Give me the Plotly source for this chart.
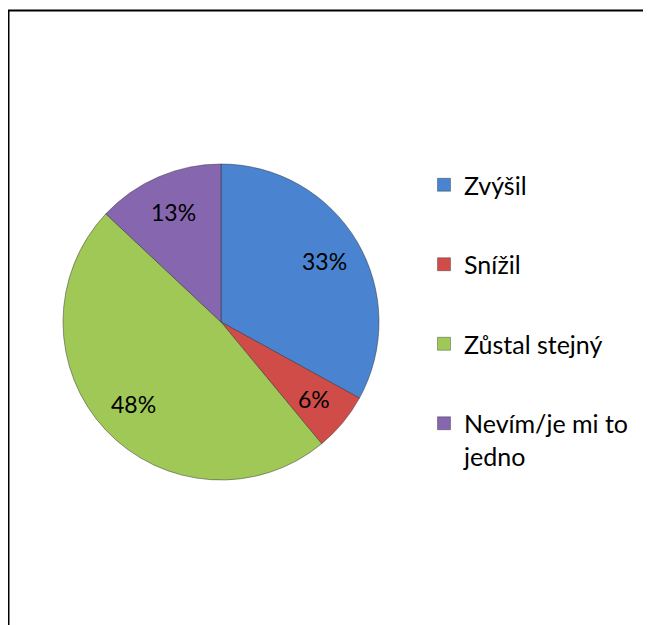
import numpy as np
import plotly.graph_objects as go

W, H = 651, 625

categories = ["Zvýšil", "Snížil", "Zůstal stejný", "Nevím/je mi to<br>jedno"]
shares = [33, 6, 48, 13]
colors = ["#4A84D0", "#CF4C48", "#9FC856", "#8766B0"]

# pie geometry in pixels (figure coords, the page adds an 8px body margin)
CX, CY, R = 213, 314, 158
FONT = "Lato, Calibri, sans-serif"

fig = go.Figure()

fig.add_trace(go.Pie(
    labels=categories,
    values=shares,
    sort=False,
    direction="clockwise",
    rotation=0,
    marker=dict(colors=colors, line=dict(color="rgba(40,40,40,0.45)", width=1)),
    textinfo="none",
    showlegend=False,
    domain=dict(x=[(CX - R) / W, (CX + R) / W], y=[1 - (CY + R) / H, 1 - (CY - R) / H]),
    hovertemplate="%{label}: %{percent}<extra></extra>",
))

# percentage labels at the middle angle of each slice
total = sum(shares)
cum = np.cumsum([0] + shares[:-1])
for v, c in zip(shares, cum):
    ang = 2 * np.pi * (c + v / 2) / total
    px = CX + 0.76 * R * np.sin(ang)
    py = CY - 0.76 * R * np.cos(ang)
    fig.add_annotation(
        x=px / W, y=1 - py / H, xref="paper", yref="paper",
        xanchor="center", yanchor="middle",
        text=f"{v / total * 100:.0f}%", showarrow=False,
        font=dict(family=FONT, size=23, color="black"),
    )

# legend entries (one group each so the spacing matches)
for i, (name, col) in enumerate(zip(categories, colors)):
    fig.add_trace(go.Scatter(
        x=[None], y=[None], mode="markers", name=name,
        legendgroup=f"g{i}",
        marker=dict(symbol="square", size=13, color=col,
                    line=dict(color="rgba(0,0,0,0.3)", width=1)),
    ))

fig.update_layout(
    width=W, height=H,
    margin=dict(l=0, r=0, t=0, b=0),
    paper_bgcolor="white",
    plot_bgcolor="white",
    xaxis=dict(visible=False),
    yaxis=dict(visible=False),
    font=dict(family=FONT, size=25, color="black"),
    legend=dict(
        x=416 / W, xanchor="left",
        y=1 - 154 / H, yanchor="top",
        tracegroupgap=44,
        valign="top",
        font=dict(family=FONT, size=25, color="black"),
        bgcolor="rgba(0,0,0,0)",
    ),
    shapes=[dict(
        type="rect", xref="paper", yref="paper",
        x0=0.5 / W, x1=1.02, y0=-0.02, y1=1 - 2.5 / H,
        line=dict(color="black", width=2), fillcolor="rgba(0,0,0,0)",
    )],
)

fig.write_html("out.html")
